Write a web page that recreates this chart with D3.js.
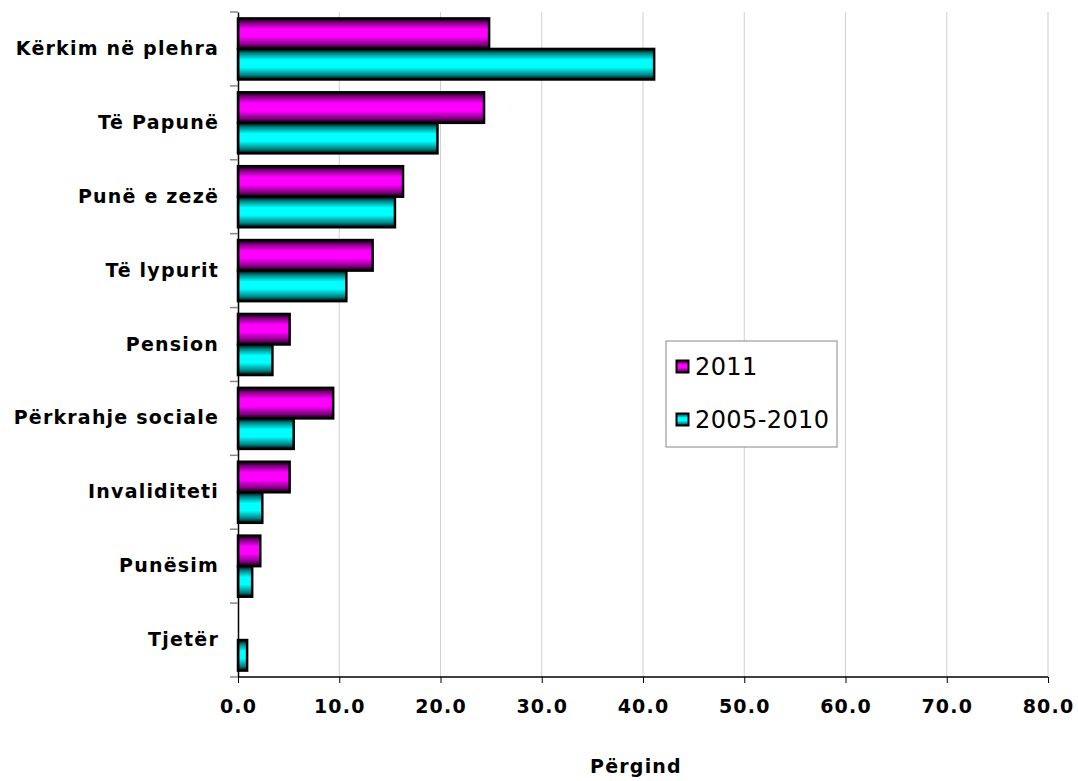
<!DOCTYPE html>
<html><head><meta charset="utf-8">
<script src="https://cdn.jsdelivr.net/npm/d3@7"></script>
<style>body{margin:0;background:#fff;} svg{display:block;}</style>
</head><body>
<svg id="c" width="1078" height="781"></svg>
<script>
const categories = ["Kërkim në plehra","Të Papunë","Punë e zezë","Të lypurit","Pension","Përkrahje sociale","Invaliditeti","Punësim","Tjetër"];
const series2011 = [24.8, 24.3, 16.3, 13.3, 5.1, 9.4, 5.1, 2.2, 0];
const series2005 = [41.1, 19.7, 15.5, 10.7, 3.4, 5.5, 2.4, 1.4, 0.9];
const seriesNames = ["2011","2005-2010"];
const xTicks = [0,10,20,30,40,50,60,70,80];
const xTitle = "Përgind";

const FONT = "DejaVu Sans, Verdana, sans-serif";
const svg = d3.select("#c");
const m = {l:238, r:1048, t:12, b:677};
const x = d3.scaleLinear().domain([0,80]).range([m.l, m.r]);
const y = d3.scaleBand().domain(categories).range([m.t, m.b]).paddingInner(0).paddingOuter(0);
const inner = d3.scaleBand().domain(seriesNames).range([0, y.bandwidth()]).paddingInner(0).paddingOuter(0.21);

const defs = svg.append("defs");
function grad(id, dark, bright){
  const g = defs.append("linearGradient").attr("id",id).attr("x1",0).attr("y1",0).attr("x2",0).attr("y2",1);
  g.append("stop").attr("offset","0%").attr("stop-color","#000");
  g.append("stop").attr("offset","14%").attr("stop-color",dark);
  g.append("stop").attr("offset","36%").attr("stop-color",bright);
  g.append("stop").attr("offset","60%").attr("stop-color",bright);
  g.append("stop").attr("offset","86%").attr("stop-color",dark);
  g.append("stop").attr("offset","100%").attr("stop-color","#000");
}
grad("gm","#800080","#ff00ff");
grad("gc","#008080","#00ffff");
const fills = {"2011":"url(#gm)","2005-2010":"url(#gc)"};

// gridlines
svg.append("g").selectAll("line").data(xTicks.slice(1)).join("line")
  .attr("x1",d=>x(d)).attr("x2",d=>x(d)).attr("y1",m.t).attr("y2",m.b)
  .attr("stroke","#d0d0d0").attr("stroke-width",1);

// bars
const rows = categories.map((c,i)=>({c, vals:[{s:"2011",v:series2011[i]},{s:"2005-2010",v:series2005[i]}]}));
const gRows = svg.append("g").selectAll("g").data(rows).join("g")
  .attr("transform",d=>`translate(0,${y(d.c)})`);
gRows.selectAll("rect").data(d=>d.vals.filter(v=>v.v>0)).join("rect")
  .attr("x",x(0)).attr("y",d=>inner(d.s)).attr("width",d=>x(d.v)-x(0)).attr("height",inner.bandwidth())
  .attr("fill",d=>fills[d.s]).attr("stroke","#000").attr("stroke-width",2.5);

// y axis
const yAxis = d3.axisLeft(y).tickSize(0).tickPadding(19);
const gy = svg.append("g").attr("transform",`translate(${m.l},0)`).call(yAxis);
gy.select(".domain").attr("stroke","#000").attr("stroke-width",1.5);
gy.selectAll("text").attr("font-family",FONT).attr("font-weight","bold").attr("font-size","19px")
  .attr("letter-spacing","1.2px").attr("fill","#000");
// grey tick marks at category boundaries
svg.append("g").selectAll("line").data(d3.range(categories.length+1)).join("line")
  .attr("x1",m.l-8).attr("x2",m.l).attr("y1",i=>m.t + i*y.step()).attr("y2",i=>m.t + i*y.step())
  .attr("stroke","#888").attr("stroke-width",1.5);

// x axis
const xAxis = d3.axisBottom(x).tickValues(xTicks).tickFormat(d3.format(".1f")).tickSize(6).tickPadding(17);
const gx = svg.append("g").attr("transform",`translate(0,${m.b})`).call(xAxis);
gx.select(".domain").attr("stroke","#000").attr("stroke-width",1.5).attr("d",`M${m.l},0H${m.r}`);
gx.selectAll(".tick line").attr("stroke","#000");
gx.selectAll("text").attr("font-family",FONT).attr("font-weight","bold").attr("font-size","19px")
  .attr("letter-spacing","1.2px").attr("fill","#000");

svg.append("text").attr("x",636).attr("y",773).attr("text-anchor","middle")
  .attr("font-family",FONT).attr("font-weight","bold").attr("font-size","19px").attr("letter-spacing","1.2px").text(xTitle);

// legend
const lg = svg.append("g").attr("transform","translate(666,341)");
lg.append("rect").attr("width",171).attr("height",106).attr("fill","#fff").attr("stroke","#888").attr("stroke-width",1);
seriesNames.forEach((s,i)=>{
  const yy = 19 + i*53;
  lg.append("rect").attr("x",10.5).attr("y",yy+0.5).attr("width",12).attr("height",12)
    .attr("fill",fills[s]).attr("stroke","#000").attr("stroke-width",2);
  lg.append("text").attr("x",29).attr("y",yy+15).attr("font-family",FONT)
    .attr("font-size","24px").attr("letter-spacing","0.4px").attr("fill","#000").text(s);
});
</script>
</body></html>
